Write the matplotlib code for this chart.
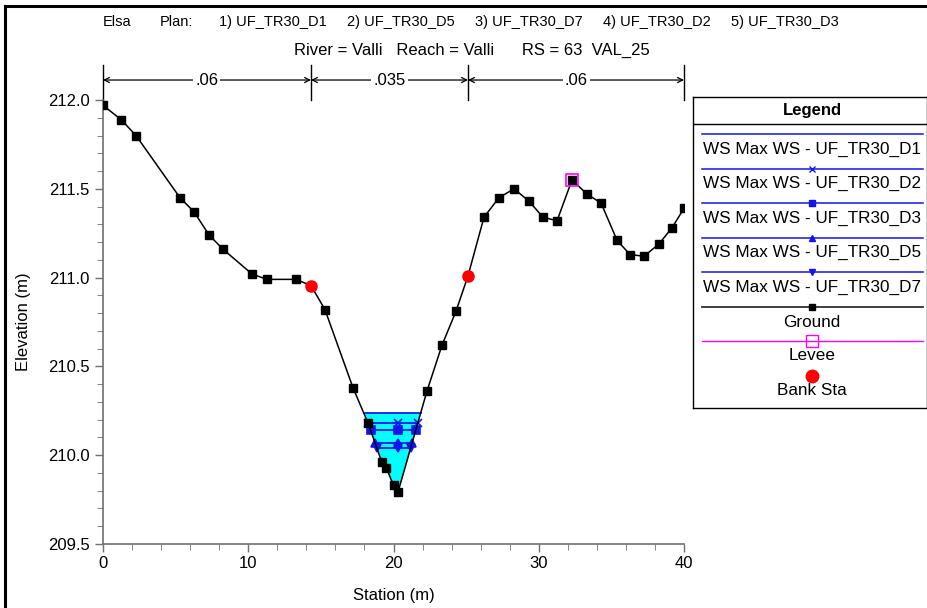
import numpy as np
import matplotlib
matplotlib.use('Agg')
import matplotlib.pyplot as plt
import matplotlib.transforms as mtransforms

plt.rcParams['font.family'] = ['Liberation Sans', 'DejaVu Sans']

# ground profile
ground_sta = [0.0, 1.24, 2.27, 5.3, 6.27, 7.3, 8.26, 10.26, 11.29, 13.29, 14.32,
              15.28, 17.21, 18.25, 19.2, 19.5, 20.0, 20.3, 22.3, 23.34, 24.3,
              25.13, 26.23, 27.26, 28.3, 29.33, 30.29, 31.26, 32.29, 33.32,
              34.29, 35.39, 36.28, 37.25, 38.28, 39.17, 40.0]
ground_elev = [211.97, 211.89, 211.8, 211.45, 211.37, 211.24, 211.16, 211.02,
               210.99, 210.99, 210.955, 210.82, 210.38, 210.18, 209.96, 209.93,
               209.83, 209.79, 210.36, 210.62, 210.81, 211.01, 211.34, 211.45,
               211.5, 211.43, 211.34, 211.32, 211.55, 211.47, 211.42, 211.21,
               211.13, 211.12, 211.19, 211.28, 211.39]

bank_sta = [14.32, 25.13]
levee_sta = [32.29]
levee_elev = [211.55]

n_values = ['.06', '.035', '.06']

# max water surface per plan
ws_plans = ['UF_TR30_D1', 'UF_TR30_D2', 'UF_TR30_D3', 'UF_TR30_D5', 'UF_TR30_D7']
ws_elev = [210.24, 210.18, 210.14, 210.07, 210.04]
ws_markers = [None, 'x', 's', '^', 'v']

plan_labels = ['1) UF_TR30_D1', '2) UF_TR30_D5', '3) UF_TR30_D7',
               '4) UF_TR30_D2', '5) UF_TR30_D3']

WS_BLUE = '#1414f0'


def ws_extent(level, sta, elev):
    # find where the water level meets the banks around the thalweg
    sta = np.asarray(sta)
    elev = np.asarray(elev)
    i0 = int(np.argmin(elev))
    j = i0
    while j > 0 and elev[j - 1] < level:
        j -= 1
    xl = np.interp(level, [elev[j], elev[j - 1]], [sta[j], sta[j - 1]])
    k = i0
    while k < len(sta) - 1 and elev[k + 1] < level:
        k += 1
    xr = np.interp(level, [elev[k], elev[k + 1]], [sta[k], sta[k + 1]])
    return xl, xr, sta[i0]


fig = plt.figure(figsize=(9.28, 6.08), dpi=100)
ax = fig.add_axes([103 / 928, 64 / 608, 581 / 928, 444 / 608])

gs = np.asarray(ground_sta)
ge = np.asarray(ground_elev)

# water fill
top = max(ws_elev)
ax.fill_between(gs, ge, top, where=ge < top, interpolate=True,
                color='#00ffff', linewidth=0, zorder=1)

for lev, mk in zip(ws_elev, ws_markers):
    xl, xr, xm = ws_extent(lev, gs, ge)
    ax.plot([xl, xr], [lev, lev], color=WS_BLUE, lw=1.3, zorder=3)
    if mk:
        ax.plot([xl, xm, xr], [lev, lev, lev], ls='none', marker=mk,
                color=WS_BLUE, ms=6, mew=1.2, zorder=4)

ax.plot(gs, ge, color='black', lw=1.1, marker='s', ms=5.5, zorder=5)
ax.plot(bank_sta, np.interp(bank_sta, gs, ge), ls='none', marker='o',
        color='red', ms=8, zorder=6)
ax.plot(levee_sta, levee_elev, ls='none', marker='s', mfc='none',
        mec='magenta', ms=9, mew=1.2, zorder=7)

ax.set_xlim(0, 40)
ax.set_ylim(209.5, 212.0)
ax.set_xticks([0, 10, 20, 30, 40])
ax.set_xticks(np.arange(0, 41, 2), minor=True)
ax.set_yticks([209.5, 210.0, 210.5, 211.0, 211.5, 212.0])
ax.set_yticks(np.arange(209.5, 212.01, 0.1), minor=True)
ax.yaxis.set_major_formatter(matplotlib.ticker.FormatStrFormatter('%.1f'))
ax.tick_params(labelsize=12, direction='out', color='#707070', length=6,
               width=1)
ax.tick_params(which='minor', direction='out', color='#707070', length=4)
ax.tick_params(axis='x', pad=3)
for s in ['top', 'right']:
    ax.spines[s].set_visible(False)
for s in ['left', 'bottom']:
    ax.spines[s].set_color('#707070')
    ax.spines[s].set_linewidth(1.2)

ax.set_xlabel('Station (m)', fontsize=12, labelpad=12)
ax.set_ylabel('Elevation (m)', fontsize=12, labelpad=12)

# manning n indicators above the axes
trans = mtransforms.blended_transform_factory(ax.transData, ax.transAxes)
n_breaks = [0] + bank_sta + [40]
for x in n_breaks:
    ax.plot([x, x], [1.0, 1.079], color='black', lw=1, transform=trans,
            clip_on=False)
for i, lab in enumerate(n_values):
    x0, x1 = n_breaks[i], n_breaks[i + 1]
    ax.annotate('', xy=(x0, 1.045), xytext=(x1, 1.045), xycoords=trans,
                textcoords=trans,
                arrowprops=dict(arrowstyle='<->', lw=0.9, color='black',
                                shrinkA=0, shrinkB=0, mutation_scale=9))
    ax.text((x0 + x1) / 2, 1.045, lab, transform=trans, ha='center',
            va='center', fontsize=12,
            bbox=dict(facecolor='white', edgecolor='none', pad=1.5))

# header text
fig.text(103 / 928, 1 - 22 / 608, 'Elsa', fontsize=10.5, va='center')
fig.text(160 / 928, 1 - 22 / 608, 'Plan:', fontsize=10.5, va='center')
for i, p in enumerate(plan_labels):
    fig.text((219 + 128 * i) / 928, 1 - 22 / 608, p, fontsize=10.5,
             va='center')
fig.text(472 / 928, 1 - 50 / 608,
         'River = Valli   Reach = Valli      RS = 63  VAL_25',
         fontsize=12, ha='center', va='center')

# legend panel
lg = fig.add_axes([693 / 928, 200 / 608, 234 / 928, 311 / 608])
lg.set_xlim(693, 927)
lg.set_ylim(408, 97)
lg.set_xticks([])
lg.set_yticks([])
for s in lg.spines.values():
    s.set_linewidth(1)
lg.text(812, 111, 'Legend', fontsize=12, fontweight='bold', ha='center',
        va='center')
lg.plot([693, 927], [124, 124], color='black', lw=1)
row = 0
for name, mk in zip(ws_plans, ws_markers):
    yl = 134 + 34.5 * row
    lg.plot([702, 923], [yl, yl], color=WS_BLUE, lw=1.1)
    if mk:
        lg.plot([812], [yl], marker=mk, color=WS_BLUE, ms=5, mew=1)
    lg.text(703, yl + 15, 'WS Max WS - ' + name, fontsize=12.3, va='center')
    row += 1
yl = 134 + 34.5 * row
lg.plot([702, 923], [yl, yl], color='#303030', lw=1.3)
lg.plot([812], [yl], marker='s', color='black', ms=5)
lg.text(812, yl + 16, 'Ground', fontsize=12.3, ha='center', va='center')
yl += 34.5
lg.plot([702, 923], [yl, yl], color='magenta', lw=1)
lg.plot([812], [yl], marker='s', mfc='none', mec='magenta', ms=9, mew=1)
lg.text(812, yl + 14, 'Levee', fontsize=12.3, ha='center', va='center')
yl += 34.5
lg.plot([812], [yl], marker='o', color='red', ms=9)
lg.text(812, yl + 15, 'Bank Sta', fontsize=12.3, ha='center', va='center')

# outer frame: left and top edges only
fig.add_artist(plt.Line2D([5.5 / 928, 5.5 / 928], [0, 1 - 5.5 / 608],
                          transform=fig.transFigure, color='black', lw=2.2))
fig.add_artist(plt.Line2D([4.5 / 928, 1], [1 - 5.5 / 608, 1 - 5.5 / 608],
                          transform=fig.transFigure, color='black', lw=2.2))

fig.savefig('out.png', dpi=100)
